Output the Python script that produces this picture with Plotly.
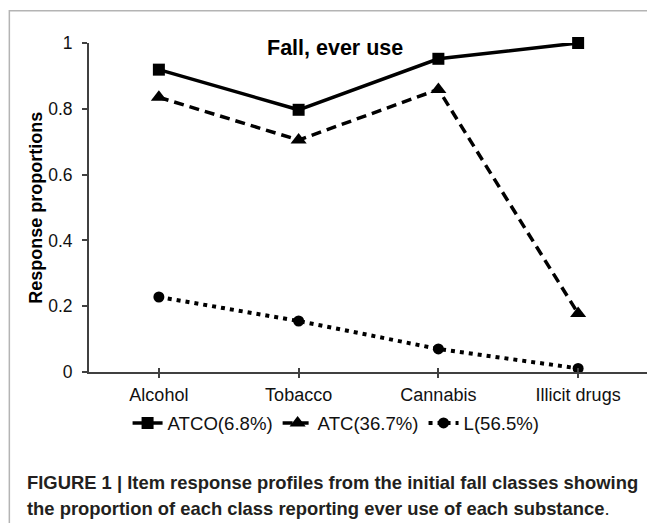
import plotly.graph_objects as go

categories = ["Alcohol", "Tobacco", "Cannabis", "Illicit drugs"]
atco = [0.919, 0.797, 0.952, 1.0]
atc = [0.835, 0.705, 0.859, 0.178]
lcls = [0.228, 0.155, 0.070, 0.011]
series_names = ["ATCO(6.8%)", "ATC(36.7%)", "L(56.5%)"]
y_ticks = [0, 0.2, 0.4, 0.6, 0.8, 1]
y_ticktext = ["0", "0.2", "0.4", "0.6", "0.8", "1"]

xpos = list(range(len(categories)))
FONT = "Liberation Sans, Arial, sans-serif"

fig = go.Figure()
fig.add_trace(go.Scatter(
    x=xpos, y=atco, name=series_names[0], mode="lines+markers",
    line=dict(color="black", width=3.5),
    marker=dict(symbol="square", size=12, color="black"),
    cliponaxis=False))
fig.add_trace(go.Scatter(
    x=xpos, y=atc, name=series_names[1], mode="lines+markers",
    line=dict(color="black", width=3.5, dash="10px,6px"),
    marker=dict(symbol="triangle-up", size=14, color="black"),
    cliponaxis=False))
fig.add_trace(go.Scatter(
    x=xpos, y=lcls, name=series_names[2], mode="lines+markers",
    line=dict(color="black", width=4, dash="4px,5px"),
    marker=dict(symbol="circle", size=11, color="black"),
    cliponaxis=False))

axis_color = "#404040"
fig.update_xaxes(
    range=[-0.5, 3.5], tickmode="array",
    tickvals=xpos + [3.5], ticktext=categories + [""],
    ticks="outside", ticklen=4, tickwidth=2, tickcolor=axis_color,
    minor=dict(tickmode="array", tickvals=[v + 1e-6 for v in xpos] + [3.5 - 1e-6],
               ticks="inside", ticklen=4, tickwidth=2, tickcolor=axis_color),
    showline=True, linecolor=axis_color, linewidth=2,
    showgrid=False, zeroline=False,
    tickfont=dict(family=FONT, size=18, color="#111"),
    ticklabelstandoff=1,
)
fig.update_yaxes(
    range=[0, 1], tickmode="array", tickvals=y_ticks, ticktext=y_ticktext,
    ticks="outside", ticklen=5, tickwidth=2, tickcolor=axis_color,
    showline=True, linecolor=axis_color, linewidth=2,
    showgrid=False, zeroline=False,
    tickfont=dict(family=FONT, size=17.5, color="#111"),
    ticklabelstandoff=6,
)

# outer frame (open at right/bottom as cropped in the reference)
fig.add_shape(type="rect", xref="paper", yref="paper",
              x0=-0.1425, x1=1.3, y0=-0.7, y1=1.098,
              line=dict(color="#b4b4b4", width=1.5), layer="below")

fig.add_annotation(text="<b>Fall, ever use</b>", xref="paper", yref="paper",
                   x=0.4406, y=0.985, xanchor="center", yanchor="middle",
                   showarrow=False, font=dict(family=FONT, size=21.5, color="black"))
fig.add_annotation(text="<b>Response proportions</b>", xref="paper", yref="paper",
                   x=-0.096, y=0.5, xanchor="center", yanchor="middle", textangle=-90,
                   showarrow=False, font=dict(family=FONT, size=18, color="black"))
fig.add_annotation(text="<b>FIGURE 1 | Item response profiles from the initial fall classes showing</b>",
                   xref="paper", yref="paper", x=-0.114, y=-0.3359,
                   xanchor="left", yanchor="middle", showarrow=False,
                   font=dict(family=FONT, size=18.4, color="#231f20"))
fig.add_annotation(text="<b>the proportion of each class reporting ever use of each substance</b>.",
                   xref="paper", yref="paper", x=-0.114, y=-0.4135,
                   xanchor="left", yanchor="middle", showarrow=False,
                   font=dict(family=FONT, size=18.4, color="#231f20"))

# the page body adds an 8px offset; size the figure so the plot lands where the reference has it
fig.update_layout(
    width=647, height=515,
    margin=dict(l=81, r=7, t=35, b=151, autoexpand=False),
    paper_bgcolor="white", plot_bgcolor="white",
    showlegend=True,
    legend=dict(orientation="h", x=0.442, xanchor="center", y=-0.156, yanchor="middle",
                font=dict(family=FONT, size=18.6, color="#111"),
                bgcolor="rgba(0,0,0,0)", itemwidth=30, tracegroupgap=0),
)

fig.write_html("out.html")
